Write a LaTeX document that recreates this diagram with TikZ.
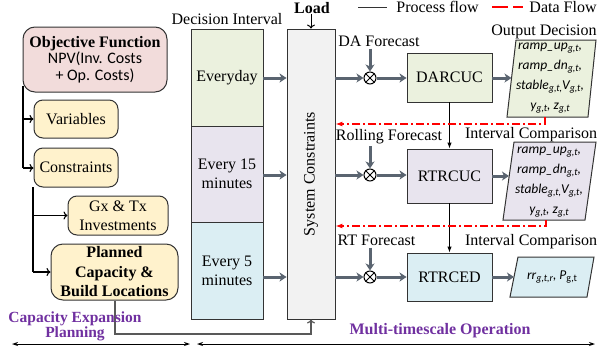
\documentclass[tikz,border=0pt]{standalone}
\usepackage{fontspec}
\setmainfont{Liberation Serif}
\setsansfont{Carlito}
\usetikzlibrary{arrows.meta}
\definecolor{pinkf}{HTML}{F2DCDB}
\definecolor{yellf}{HTML}{FFF2CC}
\definecolor{greenf}{HTML}{EBF1DE}
\definecolor{lavf}{HTML}{E8E4EE}
\definecolor{bluef}{HTML}{DBEEF3}
\definecolor{grayf}{HTML}{F2F2F2}
\definecolor{flowgray}{HTML}{5A6470}
\definecolor{purp}{HTML}{7030A0}
\definecolor{edgec}{HTML}{333333}
\definecolor{linkgray}{HTML}{595959}
\newcommand\sbs[1]{\raisebox{-0.35ex}{\fontsize{10}{10}\selectfont #1}}
\begin{document}
\begin{tikzpicture}[x=1pt,y=-1pt,
  txt/.style={font=\fontsize{16}{19}\selectfont, inner sep=0pt, align=center},
  rbox/.style={draw=edgec, line width=1pt, rounded corners=9pt, inner sep=0pt, align=center, font=\fontsize{16}{19}\selectfont},
  sqbox/.style={draw=edgec, line width=0.9pt, inner sep=0pt, align=center, font=\fontsize{16}{19}\selectfont},
  gflow/.style={line width=3pt, draw=flowgray, -{Stealth[length=7pt,width=9pt,inset=2pt]}},
  treeline/.style={line width=1.1pt, draw=black},
  treearrow/.style={line width=1.1pt, draw=black, -{To[length=4pt,width=8pt]}},
  thinarrow/.style={line width=1pt, draw=black, -{Latex[length=6pt,width=4.5pt]}},
  dflow/.style={line width=1.2pt, draw=red, dash pattern=on 8pt off 3pt on 2pt off 3pt, -{Latex[length=7pt,width=5pt]}},
  parabox/.style={draw=edgec, line width=1pt},
  paratxt/.style={font=\fontsize{13.5}{20}\selectfont\sffamily\itshape, inner sep=0pt, align=center},
  mult/.style={circle, draw=black, fill=white, line width=1pt, minimum size=12pt, inner sep=0pt},
  purplab/.style={font=\fontsize{15.5}{14}\selectfont\bfseries, text=purp, inner sep=0pt, align=center},
  span/.style={line width=1pt, {Stealth[length=6pt,width=4pt]}-{Stealth[length=6pt,width=4pt]}}
]
\useasboundingbox (0,0) rectangle (597,351);

% ---------- left: capacity expansion planning ----------
\node[rbox, fill=pinkf, rounded corners=12pt, minimum width=144pt, minimum height=65pt, font=\fontsize{16}{16.5}\selectfont] (obj) at (95,59.5)
  {\textbf{Objective Function}\\{\sffamily NPV(Inv. Costs}\\{\sffamily + Op. Costs)}};
\node[rbox, fill=yellf, minimum width=84pt, minimum height=38pt] (var) at (76,119) {Variables};
\node[rbox, fill=yellf, minimum width=84pt, minimum height=39pt] (cons) at (76,167.5) {Constraints};
\node[rbox, fill=yellf, minimum width=100pt, minimum height=39pt] (gx) at (118,215.5) {Gx \& Tx\\Investments};
\node[rbox, fill=yellf, rounded corners=12pt, minimum width=127pt, minimum height=56pt, font=\fontsize{16}{19.5}\selectfont\bfseries] (plan) at (114.5,272) {Planned\\Capacity \&\\Build Locations};

\coordinate (t1top) at (23,86);
\coordinate (t1bot) at (23,168);
\coordinate (t2top) at (33,187);
\coordinate (t2bot) at (33,272);
\draw[treeline] (t1top) -- (t1bot);
\draw[treearrow] (t1top |- var.west) -- (var.west);
\draw[treearrow] (t1bot) -- (t1bot -| cons.west);
\draw[treeline] (t2top) -- (t2bot);
\draw[treearrow] (t2top |- gx.west) -- (gx.west);
\draw[treearrow] (t2bot) -- (plan.west);

% ---------- decision intervals ----------
\node[txt] (dilab) at (227,19) {Decision Interval};
\node[sqbox, fill=greenf, minimum width=72pt, minimum height=97pt] (ev1) at (227,77.5) {Everyday};
\node[sqbox, fill=lavf, minimum width=72pt, minimum height=96pt] (ev2) at (227,174) {Every 15\\minutes};
\node[sqbox, fill=bluef, minimum width=72pt, minimum height=97pt] (ev3) at (227,270.5) {Every 5\\minutes};

% ---------- system constraints ----------
\node[sqbox, fill=grayf, minimum width=48pt, minimum height=290pt] (sys) at (311,174) {};
\node[txt, rotate=90] (systxt) at (sys.center) {System Constraints};
\node[txt, font=\fontsize{16}{19}\selectfont\bfseries] (load) at (312,8) {Load};
\draw[line width=1pt, -{To[length=4pt,width=8pt]}] (load.south -| sys.north) -- (sys.north);

% rows
\coordinate (r1) at (0,78);
\coordinate (r2) at (0,175);
\coordinate (r3) at (0,277);

\draw[gflow] (ev1.east |- r1) -- (sys.west |- r1);
\draw[gflow] (ev2.east |- r2) -- (sys.west |- r2);
\draw[gflow] (ev3.east |- r3) -- (sys.west |- r3);

% ---------- operation chain ----------
\node[mult] (m1) at (370,78) {};
\node[mult] (m2) at (370,175) {};
\node[mult] (m3) at (370,277) {};
\foreach \m in {m1,m2,m3}{
  \draw[line width=0.8pt] (\m.45) -- (\m.225);
  \draw[line width=0.8pt] (\m.135) -- (\m.315);
}
\node[txt] (daf) at (379,41) {DA Forecast};
\node[txt] (rof) at (389,137) {Rolling Forecast};
\node[txt] (rtf) at (376.5,240) {RT Forecast};

\node[sqbox, fill=greenf, minimum width=85pt, minimum height=49pt] (darcuc) at (449.5,77.5) {DARCUC};
\node[sqbox, fill=lavf, minimum width=85pt, minimum height=54pt] (rtrcuc) at (449.5,176) {RTRCUC};
\node[sqbox, fill=bluef, minimum width=85pt, minimum height=48pt] (rtrced) at (449.5,277) {RTRCED};

\draw[gflow] (sys.east |- r1) -- (m1.west);
\draw[gflow] (sys.east |- r2) -- (m2.west);
\draw[gflow] (sys.east |- r3) -- (m3.west);
\draw[gflow] (daf.south -| m1) ++(0,2) -- (m1.north);
\draw[gflow] (rof.south -| m2) ++(0,2) -- (m2.north);
\draw[gflow] (rtf.south -| m3) ++(0,2) -- (m3.north);
\draw[gflow] (m1.east) -- (m1.east -| darcuc.west);
\draw[gflow] (m2.east) -- (m2.east -| rtrcuc.west);
\draw[gflow] (m3.east) -- (m3.east -| rtrced.west);

\draw[thinarrow] (darcuc.south) -- (rtrcuc.north);
\draw[thinarrow] (rtrcuc.south) -- (rtrced.north);

% ---------- outputs ----------
\node[txt] (outlab) at (544,32) {Output Decision};
\node[txt] (ic1) at (531,135) {Interval Comparison};
\node[txt] (ic2) at (531,242) {Interval Comparison};

\draw[parabox, fill=greenf] (516,40) -- (596,40) -- (588,117) -- (507,117) -- cycle;
\draw[parabox, fill=lavf] (514,142) -- (596,142) -- (585,220) -- (503,220) -- cycle;
\draw[parabox, fill=bluef] (518,257) -- (594,257) -- (587,297) -- (510,297) -- cycle;
\coordinate (p1w) at (511.5,78);
\coordinate (p2w) at (509,176);
\coordinate (p3w) at (514,277);

\node[paratxt] (o1) at (550,78) {ramp\_up\sbs{g,t},\\ramp\_dn\sbs{g,t},\\stable\sbs{g,t,}V\sbs{g,t},\\y\sbs{g,t}, z\sbs{g,t}};
\node[paratxt] (o2) at (549,182) {ramp\_up\sbs{g,t},\\ramp\_dn\sbs{g,t},\\stable\sbs{g,t,}V\sbs{g,t},\\y\sbs{g,t}, z\sbs{g,t}};
\node[paratxt] (o3) at (552,277) {rr\sbs{g,t,r}, P\sbs{\upshape g,t}};

\draw[gflow] (darcuc.east |- p1w) -- (p1w);
\draw[gflow] (rtrcuc.east |- p2w) -- (p2w);
\draw[gflow] (rtrced.east |- p3w) -- (p3w);

% ---------- data flow ----------
\coordinate (d1) at (545,117);
\coordinate (d2) at (546,220);
\draw[dflow] (d1) -- ++(0,7) -- (sys.east |- 0,124);
\draw[dflow] (d2) -- ++(0,6) -- (sys.east |- 0,226);

% ---------- planning -> system constraints ----------
\coordinate (lk) at (115,334);
\draw[line width=1.2pt, draw=linkgray, -{To[length=4pt,width=8pt]}] (plan.south -| lk) -- (lk) -- (lk -| sys.south) -- (sys.south);

% ---------- legend ----------
\coordinate (lga) at (358,7);
\coordinate (lgb) at (387,7);
\coordinate (lgc) at (492,7);
\coordinate (lgd) at (523,7);
\draw[line width=1pt, draw=edgec] (lga) -- (lgb);
\node[txt] (lgt1) at (437.5,7) {Process flow};
\draw[line width=1.2pt, draw=red, dash pattern=on 16pt off 5pt on 10pt off 5pt] (lgc) -- (lgd);
\node[txt] (lgt2) at (563,7) {Data Flow};

% ---------- bottom labels ----------
\node[purplab] (cep) at (75,326) {Capacity Expansion\\Planning};
\node[purplab, font=\fontsize{16}{14}\selectfont\bfseries] (mto) at (440,331) {Multi-timescale Operation};
\coordinate (s1) at (12,344);
\coordinate (s2) at (190,344);
\coordinate (s3) at (197,344);
\coordinate (s4) at (595,344);
\draw[span] (s1) -- (s2);
\draw[span] (s3) -- (s4);
\end{tikzpicture}
\end{document}
